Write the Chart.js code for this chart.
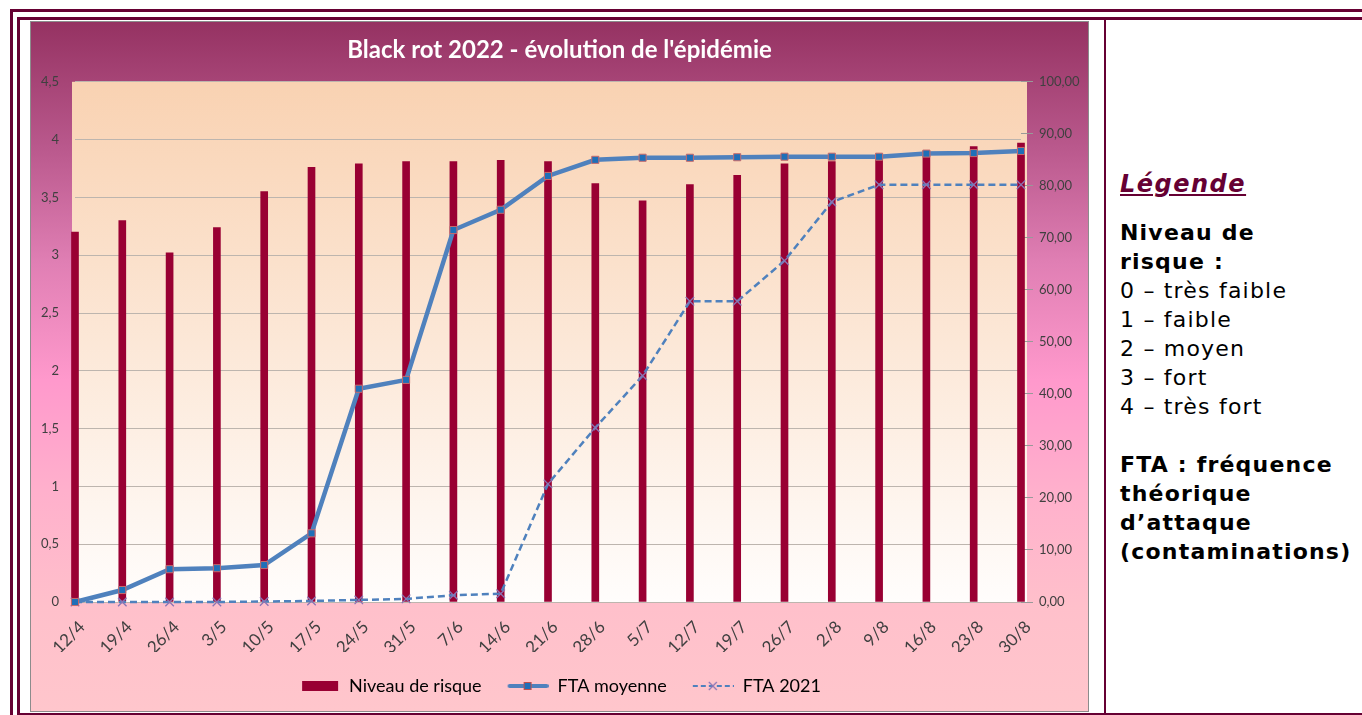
<!DOCTYPE html>
<html lang="fr">
<head>
    <meta charset="UTF-8">
    <title>Black rot 2022</title>
    <script src="https://cdn.jsdelivr.net/npm/chart.js"></script>
    <style>
        body {
            margin: 0;
            background: #fff;
            width: 1362px;
            height: 715px;
            overflow: hidden;
            position: relative;
        }
        .ln { position: absolute; background: #660033; }
        #chartbox {
            position: absolute;
            left: 30px;
            top: 21px;
            width: 1057px;
            height: 689px;
            border: 1px solid #8c8c8c;
            background: linear-gradient(to bottom, #953262 0%, #b9588c 18%, #e07fb4 35%, #ff99cc 52%, #ffb0cc 68%, #ffc0cb 85%, #ffc6cc 100%);
        }
        #legende {
            position: absolute;
            left: 1120px;
            top: 170px;
            font-family: "DejaVu Sans", Verdana, sans-serif;
            font-size: 22px;
            line-height: 29px;
            letter-spacing: 1.2px;
            color: #000;
        }
        #legende .titre {
            font-size: 24px;
            font-weight: bold;
            font-style: italic;
            text-decoration: underline;
            letter-spacing: 1.5px;
            color: #660033;
            margin-bottom: 19px;
        }
        #legende b { font-weight: bold; }
    </style>
</head>
<body>
    <div class="ln" style="left:10px;top:9px;width:1352px;height:3px"></div>
    <div class="ln" style="left:10px;top:9px;width:3px;height:706px"></div>
    <div class="ln" style="left:17px;top:17px;width:1345px;height:3px"></div>
    <div class="ln" style="left:17px;top:17px;width:3px;height:698px"></div>
    <div class="ln" style="left:1104px;top:20px;width:2px;height:695px"></div>
    <div class="ln" style="left:17px;top:713px;width:1345px;height:2px"></div>

    <div id="chartbox"><canvas id="chart" width="1057" height="689"></canvas></div>

    <div id="legende">
        <div class="titre">Légende</div>
        <div><b>Niveau de<br>risque :</b></div>
        <div>0 – très faible</div>
        <div>1 – faible</div>
        <div>2 – moyen</div>
        <div>3 – fort</div>
        <div>4 – très fort</div>
        <div style="margin-top:29px"><b>FTA : fréquence<br>théorique<br>d’attaque<br>(contaminations)</b></div>
    </div>

    <script>
        // Dates (semaines)
        const dates = ['12/4', '19/4', '26/4', '3/5', '10/5', '17/5', '24/5', '31/5', '7/6', '14/6', '21/6',
            '28/6', '5/7', '12/7', '19/7', '26/7', '2/8', '9/8', '16/8', '23/8', '30/8'];

        // Niveau de risque (axe gauche)
        const niveauRisque = [3.2, 3.3, 3.02, 3.24, 3.55, 3.76, 3.79, 3.81, 3.81, 3.82, 3.81,
            3.62, 3.47, 3.61, 3.69, 3.79, 3.81, 3.85, 3.9, 3.94, 3.97];

        // FTA moyenne (axe droit)
        const ftaMoyenne = [0, 2.3, 6.3, 6.5, 7.1, 13.2, 41, 42.7, 71.5, 75.4, 81.9,
            85, 85.4, 85.4, 85.5, 85.6, 85.6, 85.6, 86.2, 86.3, 86.7];

        // FTA 2021 (axe droit)
        const fta2021 = [0, 0, 0, 0, 0.1, 0.2, 0.4, 0.6, 1.3, 1.6, 22.7,
            33.5, 43.5, 57.8, 57.8, 65.6, 76.9, 80.2, 80.2, 80.2, 80.2];

        const bordeaux = '#990033';
        const bleu = '#4f81bd';

        // petits dessins pour la légende
        function swatch(kind) {
            const c = document.createElement('canvas');
            c.width = 42; c.height = 14;
            const g = c.getContext('2d');
            if (kind === 'bar') {
                g.fillStyle = bordeaux;
                g.fillRect(4, 2, 36, 10);
            } else if (kind === 'line') {
                g.strokeStyle = bleu; g.lineWidth = 4; g.lineCap = 'round';
                g.beginPath(); g.moveTo(3, 7); g.lineTo(40, 7); g.stroke();
                g.fillStyle = '#1f6fb8'; g.strokeStyle = '#c0504d'; g.lineWidth = 1;
                g.fillRect(18, 4, 6, 6); g.strokeRect(17.5, 3.5, 7, 7);
            } else {
                g.strokeStyle = bleu; g.lineWidth = 2; g.setLineDash([5, 3]);
                g.beginPath(); g.moveTo(1, 7); g.lineTo(42, 7); g.stroke();
                g.setLineDash([]); g.strokeStyle = '#8a74b4'; g.lineWidth = 1.2;
                g.beginPath(); g.moveTo(17, 3); g.lineTo(25, 11); g.moveTo(25, 3); g.lineTo(17, 11); g.stroke();
            }
            return c;
        }

        const plotBackground = {
            id: 'plotBackground',
            beforeDraw(chart) {
                const { ctx, chartArea: a } = chart;
                const grad = ctx.createLinearGradient(0, a.top, 0, a.bottom);
                grad.addColorStop(0, '#f9d2b2');
                grad.addColorStop(1, '#fffdfc');
                ctx.save();
                ctx.fillStyle = grad;
                ctx.fillRect(a.left - 3, a.top, a.right - a.left + 9, a.bottom - a.top);
                ctx.restore();
            }
        };

        const tickFont = { family: 'Lato, sans-serif', size: 13 };

        new Chart(document.getElementById('chart'), {
            type: 'bar',
            data: {
                labels: dates,
                datasets: [
                    {
                        type: 'line',
                        label: 'FTA moyenne',
                        data: ftaMoyenne,
                        yAxisID: 'y2',
                        borderColor: bleu,
                        borderWidth: 4.5,
                        pointStyle: 'rect',
                        pointRadius: 5,
                        pointBackgroundColor: '#1f6fb8',
                        pointBorderColor: '#c96a6a',
                        pointBorderWidth: 1,
                        tension: 0,
                        clip: false,
                        order: 1
                    },
                    {
                        type: 'line',
                        label: 'FTA 2021',
                        data: fta2021,
                        yAxisID: 'y2',
                        borderColor: bleu,
                        borderWidth: 2.5,
                        borderDash: [7, 4],
                        pointStyle: 'crossRot',
                        pointRadius: 6,
                        pointBorderColor: '#8a74b4',
                        pointBorderWidth: 1.3,
                        tension: 0,
                        clip: false,
                        order: 2
                    },
                    {
                        label: 'Niveau de risque',
                        data: niveauRisque,
                        yAxisID: 'y',
                        backgroundColor: bordeaux,
                        barThickness: 7,
                        clip: false,
                        order: 3
                    }
                ]
            },
            options: {
                responsive: false,
                animation: false,
                layout: { padding: { bottom: 6 } },
                scales: {
                    x: {
                        offset: false,
                        grid: { display: false },
                        border: { display: false },
                        ticks: {
                            autoSkip: false,
                            maxRotation: 45,
                            minRotation: 45,
                            color: '#404040',
                            font: { family: 'Lato, sans-serif', size: 17 },
                            padding: 7,
                            labelOffset: 7
                        },
                        afterFit: (s) => { s.height = 50; }
                    },
                    y: {
                        position: 'left',
                        min: 0,
                        max: 4.5,
                        ticks: {
                            stepSize: 0.5,
                            color: '#404040',
                            font: tickFont,
                            padding: 16,
                            callback: (v) => String(v).replace('.', ',')
                        },
                        grid: { color: '#bdb5ae', lineWidth: 1, drawTicks: false },
                        border: { display: false },
                        afterFit: (s) => { s.width = 44; }
                    },
                    y2: {
                        position: 'right',
                        min: 0,
                        max: 100,
                        ticks: {
                            stepSize: 10,
                            color: '#404040',
                            font: tickFont,
                            padding: 6,
                            callback: (v) => v.toFixed(2).replace('.', ',')
                        },
                        grid: { drawOnChartArea: false, color: '#999', tickLength: 12 },
                        border: { display: false },
                        afterFit: (s) => { s.width = 67; }
                    }
                },
                plugins: {
                    title: {
                        display: true,
                        text: "Black rot 2022 - évolution de l'épidémie",
                        color: '#ffffff',
                        font: { family: 'Lato, sans-serif', size: 24, weight: 'bold' },
                        padding: { top: 14, bottom: 17 }
                    },
                    legend: {
                        position: 'bottom',
                        labels: {
                            usePointStyle: true,
                            pointStyleWidth: 42,
                            padding: 25,
                            color: '#262626',
                            font: { family: 'Lato, sans-serif', size: 18 },
                            generateLabels: () => [
                                { text: 'Niveau de risque', pointStyle: swatch('bar'), datasetIndex: 2 },
                                { text: 'FTA moyenne', pointStyle: swatch('line'), datasetIndex: 0 },
                                { text: 'FTA 2021', pointStyle: swatch('dash'), datasetIndex: 1 }
                            ]
                        }
                    },
                    tooltip: { enabled: false }
                }
            },
            plugins: [plotBackground]
        });
    </script>
</body>
</html>
